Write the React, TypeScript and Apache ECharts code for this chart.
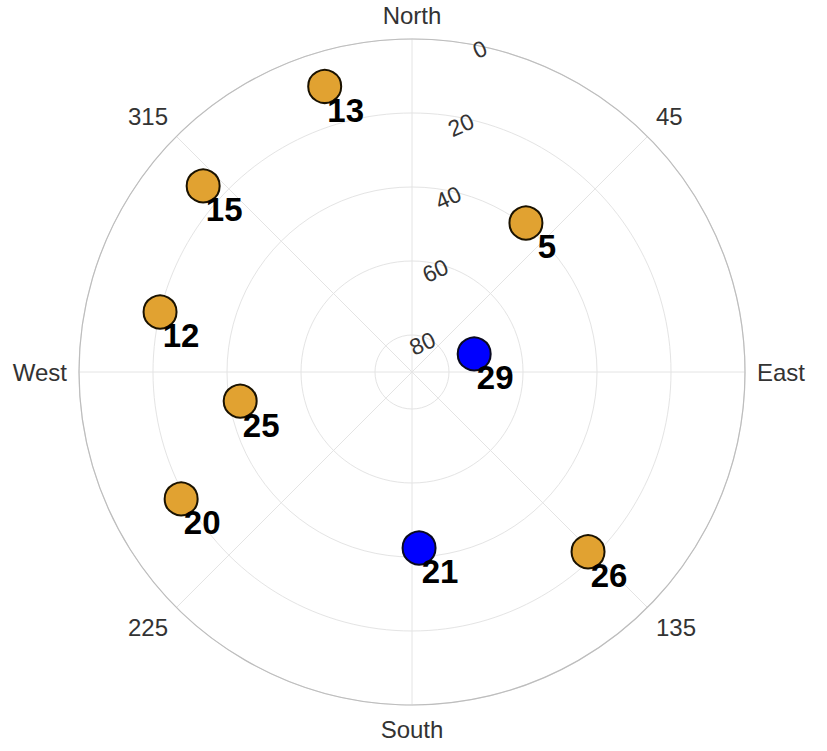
import React, { useEffect, useRef } from "react";
import * as echarts from "echarts";

const prnOrange = ["13", "15", "5", "12", "25", "20", "26"];
const azOrange = [343, 311.7, 37.4, 283.4, 260.4, 241.2, 135.6];
const elOrange = [9.3, 14.4, 39.3, 20, 42.9, 18.8, 22];

const prnBlue = ["29", "21"];
const azBlue = [73.8, 177.7];
const elBlue = [72.5, 42.4];

const angleTicks = [0, 45, 90, 135, 180, 225, 270, 315];
const angleTickLabels = ["North", "45", "East", "135", "South", "225", "West", "315"];
const radiusTicks = [0, 20, 40, 60, 80];

export default function App() {
  const ref = useRef<HTMLDivElement>(null);
  useEffect(() => {
    if (!ref.current) return;
    const chart = echarts.init(ref.current, null, { renderer: "svg" });
    const center = [412, 372];
    const radius = 333;
    const font = "'Liberation Sans', Arial, Helvetica, sans-serif";
    const mk = (prn: string[], az: number[], el: number[]) =>
      prn.map((p, i) => ({ name: p, value: [el[i], az[i]] }));
    const labelCfg = {
      show: true,
      position: "inside",
      offset: [21, 24],
      formatter: "{b}",
      fontSize: 33,
      fontWeight: "bold",
      color: "#000",
      opacity: 1,
      fontFamily: font,
    };
    chart.setOption({
      animation: false,
      backgroundColor: "#fff",
      polar: [
        { center, radius },
        { center, radius },
      ],
      angleAxis: [
        {
          polarIndex: 0,
          type: "value",
          min: 0,
          max: 360,
          interval: 45,
          startAngle: 90,
          clockwise: true,
          axisLine: { show: true, lineStyle: { color: "#bdbdbd", width: 1.2 } },
          axisTick: { show: false },
          splitLine: { show: true, lineStyle: { color: "#e4e4e4", width: 1 } },
          axisLabel: {
            margin: 12,
            fontSize: 24,
            color: "#333",
            fontFamily: font,
            formatter: (v: number) => {
              const i = angleTicks.indexOf(v);
              return i >= 0 ? angleTickLabels[i] : "";
            },
          },
        },
        {
          polarIndex: 1,
          type: "value",
          min: 0,
          max: 360,
          startAngle: 80,
          clockwise: true,
          show: false,
        },
      ],
      radiusAxis: [
        {
          polarIndex: 0,
          type: "value",
          min: 0,
          max: 90,
          interval: 20,
          inverse: true,
          axisLine: { show: false },
          axisTick: { show: false },
          axisLabel: { show: false },
          splitLine: { show: true, lineStyle: { color: "#e4e4e4", width: 1 } },
        },
        {
          polarIndex: 1,
          type: "value",
          min: 0,
          max: 90,
          interval: 20,
          inverse: true,
          axisLine: { show: false },
          axisTick: { show: false },
          splitLine: { show: false },
          axisLabel: {
            show: true,
            rotate: 24,
            margin: -16,
            fontSize: 23,
            color: "#333",
            fontFamily: font,
            formatter: (v: number) => (radiusTicks.indexOf(v) >= 0 ? String(v) : ""),
          },
        },
      ],
      series: [
        {
          type: "scatter",
          coordinateSystem: "polar",
          polarIndex: 0,
          symbolSize: 33,
          itemStyle: { color: "#E1A231", borderColor: "#1a1200", borderWidth: 2, opacity: 1 },
          label: labelCfg,
          data: mk(prnOrange, azOrange, elOrange),
        },
        {
          type: "scatter",
          coordinateSystem: "polar",
          polarIndex: 0,
          symbolSize: 33,
          itemStyle: { color: "#0000FF", borderColor: "#0a0a20", borderWidth: 2, opacity: 1 },
          label: labelCfg,
          data: mk(prnBlue, azBlue, elBlue),
        },
      ],
    });
    return () => chart.dispose();
  }, []);
  return (
    <div
      ref={ref}
      style={{ position: "absolute", left: 0, top: 0, width: 827, height: 751 }}
    />
  );
}
